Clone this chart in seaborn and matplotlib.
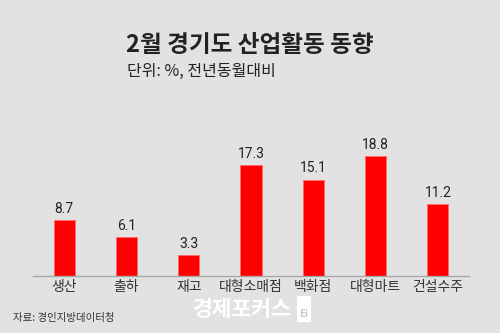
import matplotlib
matplotlib.use("Agg")
import matplotlib.pyplot as plt
import seaborn as sns
import pandas as pd
from matplotlib.patches import Rectangle

categories = ["생산", "출하", "재고", "대형소매점", "백화점", "대형마트", "건설수주"]
values = [8.7, 6.1, 3.3, 17.3, 15.1, 18.8, 11.2]

title = "2월 경기도 산업활동 동향"
subtitle = "단위: %, 전년동월대비"
source = "자료: 경인지방데이터청"
brand = "경제포커스"

BG = "#e2e2e2"
RED = "#ff0000"

sns.set_theme(style="white")
plt.rcParams["font.family"] = ["Noto Sans CJK KR", "DejaVu Sans"]

df = pd.DataFrame({"category": categories, "value": values})

fig = plt.figure(figsize=(5.0, 3.33), dpi=100, facecolor=BG)
ax = fig.add_axes([0.066, 0.171, 0.872, 0.408])
ax.set_facecolor(BG)

sns.barplot(data=df, x="category", y="value", color=RED, width=0.34,
            saturation=1, edgecolor="#ff6b6b", linewidth=0.6, ax=ax)

ax.set_xlim(-0.5, len(categories) - 0.5)
ax.set_ylim(0, 21.25)
ax.set_xlabel("")
ax.set_ylabel("")
ax.set_yticks([])
for side in ["top", "right", "left"]:
    ax.spines[side].set_visible(False)
ax.spines["bottom"].set_color("#a8a8a8")
ax.spines["bottom"].set_linewidth(1.0)
ax.tick_params(axis="x", length=0, pad=3, labelsize=10, labelcolor="#333333")

for i, v in enumerate(values):
    ax.annotate(f"{v}", (i, v), xytext=(0, 3), textcoords="offset points",
                ha="center", va="bottom", fontsize=10, color="#222222",
                family=["Roboto", "DejaVu Sans"])

fig.text(0.5, 0.865, title, ha="center", va="center", fontsize=17,
         fontweight="bold", color="#222222")
fig.text(0.254, 0.785, subtitle, ha="left", va="center", fontsize=11.5,
         color="#222222")
fig.text(0.026, 0.045, source, ha="left", va="center", fontsize=7.5,
         color="#333333")

# brand mark
fig.text(0.385, 0.072, brand, ha="left", va="center", fontsize=15.5,
         fontweight="bold", color="white")
fig.add_artist(Rectangle((0.593, 0.033), 0.028, 0.078,
                         transform=fig.transFigure, facecolor="white",
                         edgecolor="none"))
fig.text(0.607, 0.058, "Ei", ha="center", va="center", fontsize=7,
         fontweight="bold", color="#c8c8c8")

fig.savefig("out.png", dpi=100, facecolor=BG)
